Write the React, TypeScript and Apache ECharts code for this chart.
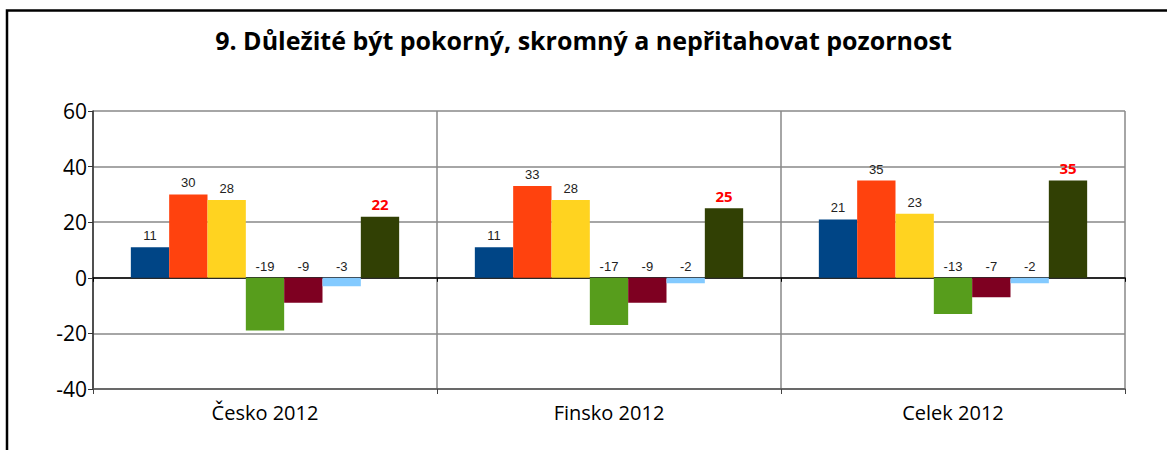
import React, { useEffect, useRef } from "react";
import * as echarts from "echarts";

const categories = ["Česko 2012", "Finsko 2012", "Celek 2012"];
const s1 = [11, 11, 21];
const s2 = [30, 33, 35];
const s3 = [28, 28, 23];
const s4 = [-19, -17, -13];
const s5 = [-9, -9, -7];
const s6 = [-3, -2, -2];
const s7 = [22, 25, 35];
const seriesValues = [s1, s2, s3, s4, s5, s6, s7];
const colors = ["#004586", "#FF420E", "#FFD320", "#579D1C", "#7E0021", "#83CAFF", "#314004"];
const titleText = "9. Důležité být pokorný, skromný a nepřitahovat pozornost";

export default function App() {
  const ref = useRef<HTMLDivElement>(null);
  useEffect(() => {
    if (!ref.current) return;
    const chart = echarts.init(ref.current, null, { renderer: "svg" });
    const series = seriesValues.map((vals, i) => {
      const last = i === seriesValues.length - 1;
      return {
        type: "bar",
        data: vals,
        xAxisIndex: 0,
        barGap: "0%",
        barCategoryGap: "22%",
        itemStyle: { color: colors[i] },
        label: {
          show: true,
          position: "top",
          distance: 5,
          fontFamily: last ? "Open Sans" : "Liberation Sans",
          fontSize: last ? 15 : 13,
          fontWeight: last ? "bold" : "normal",
          color: last ? "#ff0000" : "#222",
        },
      };
    });
    chart.setOption({
      animation: false,
      title: {
        text: titleText,
        left: "center",
        top: 22,
        textStyle: { fontFamily: "Open Sans", fontWeight: "bold", fontSize: 25, color: "#000" },
      },
      graphic: [
        {
          type: "rect",
          shape: { x: 7, y: 10.5, width: 2000, height: 2000 },
          style: { fill: "none", stroke: "#000", lineWidth: 2.5 },
          silent: true,
        },
      ],
      grid: { left: 93, right: 42, top: 111, bottom: 61 },
      xAxis: [
        {
          type: "category",
          data: categories,
          axisLine: { onZero: false, lineStyle: { color: "#555", width: 1.5 } },
          axisTick: { show: true, length: 5, lineStyle: { color: "#444" } },
          axisLabel: { fontFamily: "Open Sans", fontSize: 20, color: "#000", margin: 13 },
          splitLine: { show: true, lineStyle: { color: "#888", width: 1.5 } },
        },
        {
          type: "category",
          data: categories,
          position: "bottom",
          axisLine: { onZero: true, onZeroAxisIndex: 0, lineStyle: { color: "#000", width: 1.5 } },
          axisTick: { show: true, length: 4, lineStyle: { color: "#000" } },
          axisLabel: { show: false },
          splitLine: { show: false },
        },
      ],
      yAxis: {
        type: "value",
        min: -40,
        max: 60,
        interval: 20,
        axisLine: { show: true, lineStyle: { color: "#333", width: 1.5 } },
        axisTick: { show: true, length: 5, lineStyle: { color: "#333" } },
        axisLabel: { fontFamily: "Open Sans", fontSize: 21, color: "#000", margin: 6 },
        splitLine: { show: true, lineStyle: { color: "#888", width: 1.5 } },
      },
      series,
    });
    return () => chart.dispose();
  }, []);
  return (
    <div
      ref={ref}
      style={{ position: "fixed", left: 0, top: 0, width: 1167, height: 450, background: "#fff" }}
    />
  );
}
